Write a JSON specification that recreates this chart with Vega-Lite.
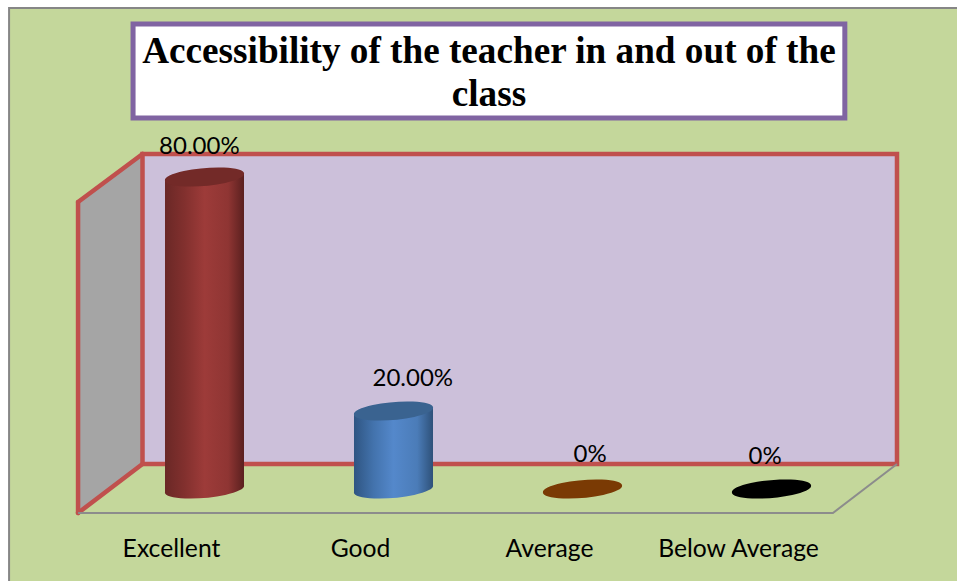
{"$schema":"https://vega.github.io/schema/vega-lite/v6.json","width":957,"height":581,"padding":0,"autosize":{"type":"none","contains":"padding"},"background":"#ffffff","config":{"view":{"stroke":null}},
"datasets":{
"bars":[{"category":"Excellent","pos":0,"value":80},{"category":"Good","pos":1,"value":20},{"category":"Average","pos":2,"value":0},{"category":"Below Average","pos":3,"value":0}],
"bodies":[{"category":"Excellent","x":-0.209,"top":79.1,"bottom":-0.9},{"category":"Excellent","x":0.209,"top":80.9,"bottom":0.9},{"category":"Good","x":0.791,"top":19.1,"bottom":-0.9},{"category":"Good","x":1.209,"top":20.9,"bottom":0.9}],
"labels":[{"text":"80.00%","lx":-0.027,"ly":85.9},{"text":"20.00%","lx":1.102,"ly":26.4},{"text":"0%","lx":2.04,"ly":6.9},{"text":"0%","lx":2.966,"ly":6.4}],
"panel":[{"x0":-1.034,"x1":4.2,"y0":-30,"y1":123.3}],
"back":[{"x0":-0.328,"x1":3.664,"y0":6.41,"y1":85.9}],
"side":[{"x":-0.669,"top":73.59,"bottom":-6.15},{"x":-0.328,"top":85.9,"bottom":6.41}],
"red":[{"edge":"a","x":-0.669,"y":73.59},{"edge":"a","x":-0.328,"y":85.9},{"edge":"b","x":-0.669,"y":73.59},{"edge":"b","x":-0.669,"y":-6.15},{"edge":"c","x":-0.669,"y":-6.15},{"edge":"c","x":-0.328,"y":6.41}],
"gray":[{"x":-0.669,"y":-6.15},{"x":3.325,"y":-6.15},{"x":3.664,"y":6.41}],
"box":[{"x0":-0.378,"x1":3.388,"y0":95.1,"y1":119.2}],
"title":[{"text":"Accessibility of the teacher in and out of the","tx":1.505,"ty":109.2},{"text":"class","tx":1.505,"ty":98.2}]
},
"data":{"name":"bars"},
"encoding":{},
"layer":[
{"data":{"name":"panel"},"mark":{"type":"rect","fill":"#c4d79b","stroke":"#868686","strokeWidth":2,"clip":false},"encoding":{"x":{"field":"x0","type":"quantitative","scale":{"domain":[-1.082,3.9815],"nice":false,"zero":false,"padding":0},"axis":{"values":[0,1,2,3],"labelExpr":"['Excellent','Good','Average','Below Average'][datum.value]","title":null,"grid":false,"domain":false,"ticks":false,"labelFont":"Lato","labelFontSize":24.7,"labelColor":"#000000","labelOffset":-33.5,"labelFlush":false,"labelOverlap":false,"labelBaseline":"alphabetic","offset":-25,"labelPadding":0,"zindex":1}},"x2":{"field":"x1"},"y":{"field":"y0","type":"quantitative","scale":{"domain":[-23.59,125.38],"nice":false,"zero":false},"axis":null},"y2":{"field":"y1"}}},
{"data":{"name":"side"},"mark":{"type":"area","fill":"#a5a5a5","opacity":1},"encoding":{"x":{"field":"x","type":"quantitative"},"y":{"field":"top","type":"quantitative"},"y2":{"field":"bottom"}}},
{"data":{"name":"back"},"mark":{"type":"rect","fill":"#ccc0da","stroke":"#c0504d","strokeWidth":4.5},"encoding":{"x":{"field":"x0","type":"quantitative"},"x2":{"field":"x1"},"y":{"field":"y0","type":"quantitative"},"y2":{"field":"y1"}}},
{"data":{"name":"red"},"mark":{"type":"line","color":"#c0504d","strokeWidth":4.5,"strokeCap":"round"},"encoding":{"x":{"field":"x","type":"quantitative"},"y":{"field":"y","type":"quantitative"},"detail":{"field":"edge"},"order":{"value":null}}},
{"data":{"name":"gray"},"mark":{"type":"line","color":"#8c8c8c","strokeWidth":2},"encoding":{"x":{"field":"x","type":"quantitative"},"y":{"field":"y","type":"quantitative"}}},
{"transform":[{"filter":"datum.category==='Excellent'"}],"mark":{"type":"point","filled":true,"opacity":1,"size":6320,"shape":"M-0.996,0.087A1,0.22 -5 1,1 0.996,-0.087A1,0.22 -5 1,1 -0.996,0.087Z","fill":{"gradient":"linear","x1":0,"x2":1,"y1":0,"y2":0,"stops":[{"offset":0,"color":"#6a2826"},{"offset":0.25,"color":"#82302e"},{"offset":0.5,"color":"#9d3b39"},{"offset":0.8,"color":"#8f3533"},{"offset":1,"color":"#5a201f"}]}},"encoding":{"x":{"field":"pos","type":"quantitative"},"y":{"datum":0,"type":"quantitative"}}},
{"data":{"name":"bodies"},"transform":[{"filter":"datum.category==='Excellent'"}],"mark":{"type":"area","opacity":1,"fill":{"gradient":"linear","x1":0,"x2":1,"y1":0,"y2":0,"stops":[{"offset":0,"color":"#6a2826"},{"offset":0.25,"color":"#82302e"},{"offset":0.5,"color":"#9d3b39"},{"offset":0.8,"color":"#8f3533"},{"offset":1,"color":"#5a201f"}]}},"encoding":{"x":{"field":"x","type":"quantitative"},"y":{"field":"top","type":"quantitative"},"y2":{"field":"bottom"}}},
{"transform":[{"filter":"datum.category==='Excellent'"}],"mark":{"type":"point","filled":true,"opacity":1,"size":6320,"shape":"M-0.996,0.087A1,0.22 -5 1,1 0.996,-0.087A1,0.22 -5 1,1 -0.996,0.087Z","fill":"#732a28"},"encoding":{"x":{"field":"pos","type":"quantitative"},"y":{"field":"value","type":"quantitative"}}},
{"transform":[{"filter":"datum.category==='Good'"}],"mark":{"type":"point","filled":true,"opacity":1,"size":6320,"shape":"M-0.996,0.087A1,0.22 -5 1,1 0.996,-0.087A1,0.22 -5 1,1 -0.996,0.087Z","fill":{"gradient":"linear","x1":0,"x2":1,"y1":0,"y2":0,"stops":[{"offset":0,"color":"#2f5582"},{"offset":0.25,"color":"#4373ad"},{"offset":0.5,"color":"#5488cb"},{"offset":0.8,"color":"#4b7cb8"},{"offset":1,"color":"#2e5179"}]}},"encoding":{"x":{"field":"pos","type":"quantitative"},"y":{"datum":0,"type":"quantitative"}}},
{"data":{"name":"bodies"},"transform":[{"filter":"datum.category==='Good'"}],"mark":{"type":"area","opacity":1,"fill":{"gradient":"linear","x1":0,"x2":1,"y1":0,"y2":0,"stops":[{"offset":0,"color":"#2f5582"},{"offset":0.25,"color":"#4373ad"},{"offset":0.5,"color":"#5488cb"},{"offset":0.8,"color":"#4b7cb8"},{"offset":1,"color":"#2e5179"}]}},"encoding":{"x":{"field":"x","type":"quantitative"},"y":{"field":"top","type":"quantitative"},"y2":{"field":"bottom"}}},
{"transform":[{"filter":"datum.category==='Good'"}],"mark":{"type":"point","filled":true,"opacity":1,"size":6320,"shape":"M-0.996,0.087A1,0.22 -5 1,1 0.996,-0.087A1,0.22 -5 1,1 -0.996,0.087Z","fill":"#3a6390"},"encoding":{"x":{"field":"pos","type":"quantitative"},"y":{"field":"value","type":"quantitative"}}},
{"transform":[{"filter":"datum.category==='Average'"}],"mark":{"type":"point","filled":true,"opacity":1,"size":6320,"shape":"M-0.996,0.087A1,0.22 -5 1,1 0.996,-0.087A1,0.22 -5 1,1 -0.996,0.087Z","fill":"#7a3a04"},"encoding":{"x":{"field":"pos","type":"quantitative"},"y":{"field":"value","type":"quantitative"}}},
{"transform":[{"filter":"datum.category==='Below Average'"}],"mark":{"type":"point","filled":true,"opacity":1,"size":6320,"shape":"M-0.996,0.087A1,0.22 -5 1,1 0.996,-0.087A1,0.22 -5 1,1 -0.996,0.087Z","fill":"#000000"},"encoding":{"x":{"field":"pos","type":"quantitative"},"y":{"field":"value","type":"quantitative"}}},
{"data":{"name":"labels"},"mark":{"type":"text","font":"Lato","fontSize":24,"color":"#000000","align":"center","baseline":"alphabetic"},"encoding":{"x":{"field":"lx","type":"quantitative"},"y":{"field":"ly","type":"quantitative"},"text":{"field":"text"}}},
{"data":{"name":"box"},"mark":{"type":"rect","fill":"#ffffff","stroke":"#8064a2","strokeWidth":5},"encoding":{"x":{"field":"x0","type":"quantitative"},"x2":{"field":"x1"},"y":{"field":"y0","type":"quantitative"},"y2":{"field":"y1"}}},
{"data":{"name":"title"},"mark":{"type":"text","font":"Liberation Serif","fontWeight":"bold","fontSize":37.2,"color":"#000000","align":"center","baseline":"alphabetic"},"encoding":{"x":{"field":"tx","type":"quantitative"},"y":{"field":"ty","type":"quantitative"},"text":{"field":"text"}}}
],
"resolve":{"scale":{"x":"shared","y":"shared"}}}
